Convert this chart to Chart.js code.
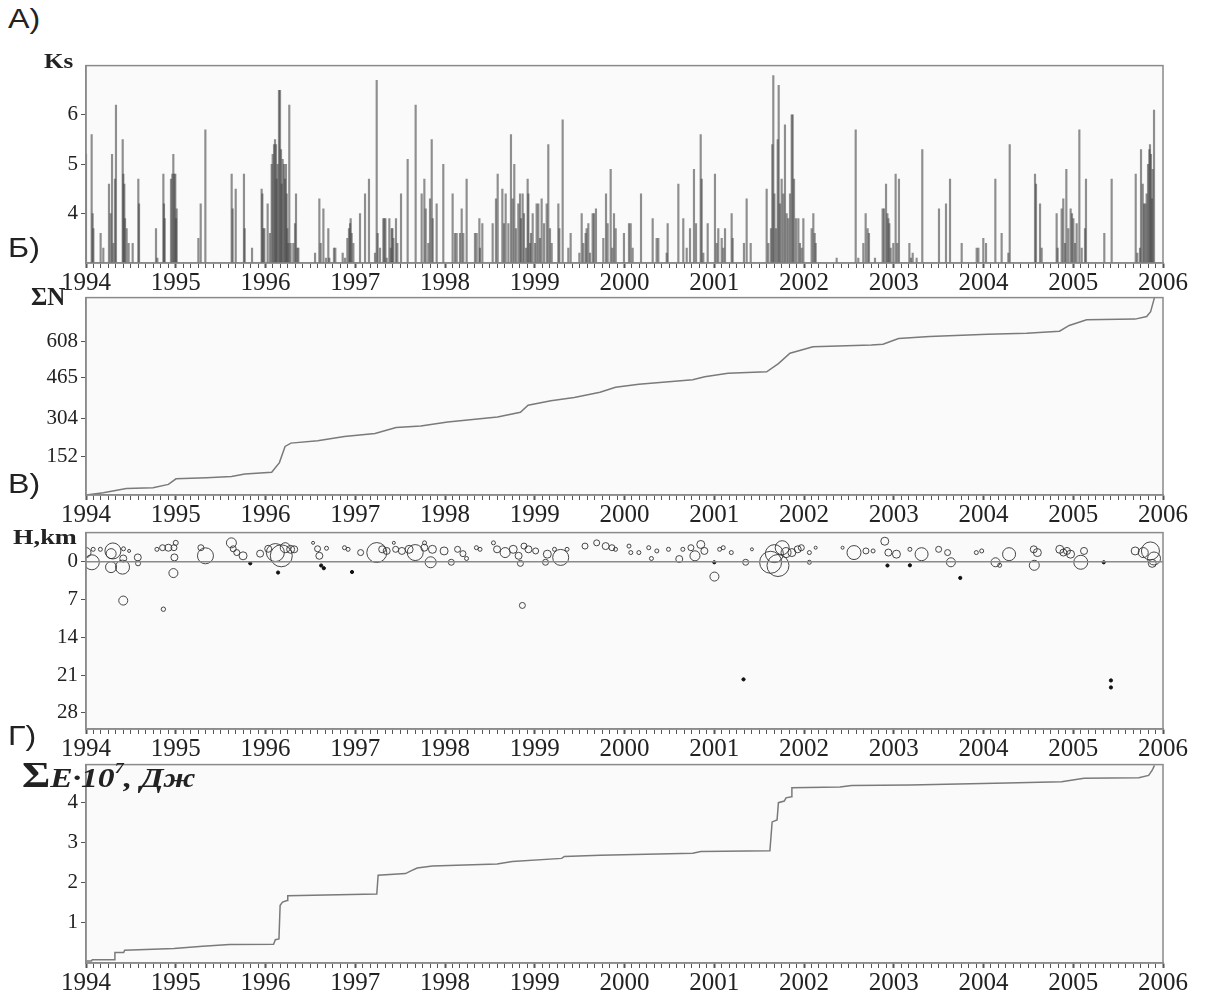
<!DOCTYPE html>
<html>
<head>
<meta charset="utf-8">
<script src="https://cdn.jsdelivr.net/npm/chart.js@4.4.1/dist/chart.umd.min.js"></script>
<style>
  body { margin: 0; background: #fff; width: 1208px; height: 998px; position: relative; overflow: hidden; color: #222; font-family: 'Liberation Serif', 'Times New Roman', serif; }
  canvas { position: absolute; left: 0; z-index: 1; }
  .lbl { position: absolute; z-index: 2; font-family: 'Liberation Sans', Arial, sans-serif; font-size: 28px; line-height: 1; transform: scaleX(1.15); transform-origin: left top; }
  .ttl { position: absolute; z-index: 2; font-weight: bold; line-height: 1; white-space: nowrap; transform-origin: left top; }
</style>
</head>
<body>
<div class="lbl" style="left:8px;top:5px">А)</div>
<div class="lbl" style="left:8px;top:234px">Б)</div>
<div class="lbl" style="left:8px;top:470px">В)</div>
<div class="lbl" style="left:8px;top:722px">Г)</div>

<div class="ttl" style="left:44px;top:51px;font-size:20px;transform:scaleX(1.25)">Ks</div>
<div class="ttl" style="left:31px;top:284px;font-size:25px">ΣN</div>
<div class="ttl" style="left:13px;top:526px;font-size:22px;transform:scaleX(1.2)">H,km</div>
<div class="ttl" style="left:22px;top:757px;font-size:28px;font-style:italic;transform:scaleX(1.2)"><span style="font-size:36px;font-style:normal">Σ</span>E·10<span style="font-size:15px;vertical-align:14px">7</span>, Дж</div>

<canvas id="chart-1" width="1208" height="243" style="top:50px"></canvas>
<canvas id="chart-2" width="1208" height="243" style="top:282px"></canvas>
<canvas id="chart-3" width="1208" height="242" style="top:517px"></canvas>
<canvas id="chart-4" width="1208" height="249" style="top:749px"></canvas>

<script>
const yearLabels = [1994, 1995, 1996, 1997, 1998, 1999, 2000, 2001, 2002, 2003, 2004, 2005, 2006];

// А) energy class Ks of each event
const ksYear = [
  1994.000, 1994.063, 1994.074, 1994.082, 1994.163, 1994.193, 1994.256, 1994.275, 1994.290, 1994.305,
  1994.323, 1994.334, 1994.409, 1994.416, 1994.427, 1994.435, 1994.453, 1994.475, 1994.520, 1994.583,
  1994.591, 1994.780, 1994.795, 1994.862, 1994.869, 1994.877, 1994.947, 1994.962, 1994.973, 1994.984,
  1994.995, 1995.003, 1995.010, 1995.252, 1995.278, 1995.330, 1995.623, 1995.634, 1995.668, 1995.760,
  1995.768, 1995.850, 1995.957, 1995.965, 1995.976, 1995.987, 1996.024, 1996.050, 1996.069, 1996.080,
  1996.095, 1996.106, 1996.117, 1996.124, 1996.135, 1996.150, 1996.162, 1996.173, 1996.180, 1996.191,
  1996.206, 1996.217, 1996.228, 1996.236, 1996.243, 1996.254, 1996.265, 1996.280, 1996.310, 1996.329,
  1996.340, 1996.355, 1996.366, 1996.552, 1996.600, 1996.615, 1996.645, 1996.674, 1996.700, 1996.711,
  1996.763, 1996.778, 1996.860, 1996.886, 1996.912, 1996.930, 1996.942, 1996.949, 1996.960, 1996.979,
  1997.053, 1997.109, 1997.153, 1997.220, 1997.239, 1997.250, 1997.276, 1997.313, 1997.324, 1997.336,
  1997.350, 1997.380, 1997.395, 1997.406, 1997.414, 1997.425, 1997.454, 1997.469, 1997.510, 1997.584,
  1997.673, 1997.740, 1997.770, 1997.785, 1997.814, 1997.833, 1997.852, 1997.863, 1997.907, 1997.981,
  1998.085, 1998.111, 1998.130, 1998.167, 1998.186, 1998.204, 1998.241, 1998.334, 1998.353, 1998.383,
  1998.390, 1998.416, 1998.531, 1998.568, 1998.587, 1998.639, 1998.657, 1998.676, 1998.706, 1998.735,
  1998.754, 1998.772, 1998.791, 1998.817, 1998.836, 1998.847, 1998.865, 1998.880, 1998.903, 1998.921,
  1998.929, 1998.947, 1998.958, 1998.977, 1999.003, 1999.021, 1999.040, 1999.058, 1999.077, 1999.103,
  1999.133, 1999.151, 1999.170, 1999.189, 1999.263, 1999.274, 1999.311, 1999.374, 1999.400, 1999.497,
  1999.523, 1999.541, 1999.567, 1999.578, 1999.597, 1999.616, 1999.645, 1999.660, 1999.682, 1999.764,
  1999.794, 1999.812, 1999.846, 1999.864, 1999.883, 1999.902, 1999.994, 2000.050, 2000.069, 2000.091,
  2000.184, 2000.314, 2000.358, 2000.377, 2000.470, 2000.481, 2000.600, 2000.655, 2000.693, 2000.730,
  2000.774, 2000.797, 2000.849, 2000.860, 2000.878, 2000.927, 2001.008, 2001.027, 2001.045, 2001.083,
  2001.101, 2001.120, 2001.194, 2001.205, 2001.331, 2001.361, 2001.406, 2001.584, 2001.603, 2001.632,
  2001.647, 2001.658, 2001.670, 2001.688, 2001.707, 2001.718, 2001.733, 2001.751, 2001.770, 2001.788,
  2001.807, 2001.825, 2001.844, 2001.863, 2001.874, 2001.889, 2001.911, 2001.937, 2001.955, 2001.974,
  2001.993,
  2002.085, 2002.104, 2002.119, 2002.130, 2002.364, 2002.576, 2002.605, 2002.661, 2002.687, 2002.709,
  2002.724, 2002.791, 2002.876, 2002.891, 2002.914, 2002.929, 2002.940, 2002.951, 2002.966, 2002.995,
  2003.021, 2003.040, 2003.058, 2003.174, 2003.192, 2003.211, 2003.255, 2003.318, 2003.504, 2003.582,
  2003.627, 2003.757, 2003.924, 2003.943, 2003.998, 2004.028, 2004.132, 2004.202, 2004.277, 2004.292,
  2004.574, 2004.585, 2004.630, 2004.648, 2004.815, 2004.826, 2004.871, 2004.889, 2004.908, 2004.923,
  2004.945, 2004.971, 2004.986, 2005.001, 2005.019, 2005.038, 2005.068, 2005.094, 2005.131, 2005.142,
  2005.346, 2005.428, 2005.696, 2005.714, 2005.744, 2005.755, 2005.774, 2005.789, 2005.804, 2005.818,
  2005.833, 2005.848, 2005.855, 2005.866, 2005.877, 2005.885, 2005.900
];
const ksValue = [
  5.2, 5.6, 4.0, 3.7, 3.6, 3.3, 4.6, 4.0, 5.2, 3.4,
  4.7, 6.2, 5.5, 4.8, 4.6, 3.9, 3.7, 3.4, 3.4, 4.7,
  4.2, 3.7, 3.1, 4.8, 4.2, 3.9, 4.7, 4.8, 5.2, 4.8,
  4.8, 3.9, 4.1, 3.5, 4.2, 5.7, 4.8, 4.1, 4.5, 4.8,
  3.7, 3.3, 4.5, 4.4, 3.7, 3.7, 4.2, 3.6, 5.0, 5.2,
  5.4, 5.5, 5.4, 4.7, 5.0, 6.5, 6.5, 5.3, 4.6, 5.1,
  5.0, 4.7, 5.0, 4.4, 3.7, 3.4, 6.2, 3.4, 3.4, 3.8,
  4.4, 3.3, 3.3, 3.2, 4.3, 3.4, 4.1, 3.1, 3.7, 3.1,
  3.3, 3.3, 3.2, 3.1, 3.5, 3.7, 3.8, 3.9, 3.6, 3.4,
  4.0, 4.4, 4.7, 3.2, 6.7, 3.6, 3.3, 3.9, 3.9, 3.9,
  3.1, 3.9, 3.3, 3.7, 3.7, 3.5, 3.9, 3.4, 4.4, 5.1,
  6.2, 4.4, 4.7, 4.1, 3.4, 4.3, 5.5, 3.9, 4.2, 5.0,
  4.4, 3.6, 3.6, 3.6, 4.1, 3.6, 4.7, 3.6, 3.6, 3.9,
  3.3, 3.8, 3.8, 4.3, 4.8, 4.5, 3.8, 4.4, 3.8, 5.6,
  4.3, 5.0, 3.7, 4.2, 4.4, 3.9, 4.4, 4.0, 3.3, 4.7,
  4.4, 3.4, 3.6, 4.0, 3.4, 4.2, 4.2, 3.5, 4.3, 3.8,
  4.2, 5.4, 3.7, 3.4, 4.2, 3.7, 5.9, 3.3, 3.6, 3.2,
  4.0, 3.4, 3.6, 3.7, 3.8, 3.2, 4.0, 4.0, 4.1, 3.5,
  4.4, 3.8, 4.9, 3.3, 4.0, 3.7, 3.6, 3.8, 3.8, 3.3,
  4.4, 3.9, 3.5, 3.5, 3.2, 3.8, 4.6, 3.9, 3.3, 3.7,
  4.9, 3.8, 5.6, 4.7, 3.2, 3.8, 4.8, 3.4, 3.7, 3.5,
  3.3, 3.7, 4.0, 3.5, 3.4, 4.3, 3.4, 4.5, 3.4, 3.7,
  5.4, 6.8, 4.4, 3.7, 5.5, 6.6, 4.2, 4.7, 4.4, 5.8,
  4.0, 3.9, 4.4, 6.0, 6.0, 4.7, 3.9, 3.9, 3.4, 3.3,
  3.9,
  3.7, 4.0, 3.6, 3.4, 3.1, 5.7, 3.1, 3.4, 4.0, 3.7,
  3.6, 3.1, 4.1, 4.1, 4.6, 4.0, 3.9, 3.8, 3.3, 3.4,
  4.8, 3.4, 4.7, 3.4, 3.1, 3.2, 3.1, 5.3, 4.1, 4.2,
  4.7, 3.4, 3.3, 3.3, 3.5, 3.4, 4.7, 3.6, 3.2, 5.4,
  4.8, 4.6, 4.2, 3.3, 4.0, 3.3, 4.1, 4.3, 3.4, 4.9,
  3.7, 4.1, 4.0, 3.9, 3.4, 3.8, 5.7, 3.3, 3.7, 4.7,
  3.6, 4.7, 4.8, 3.2, 3.3, 5.3, 4.6, 4.2, 4.2, 4.4,
  5.0, 5.3, 5.4, 5.2, 4.3, 4.9, 6.1
];
const ksTicks = [4, 5, 6];

// Б) cumulative number of events
const nYear = [1994.000, 1994.193, 1994.449, 1994.747, 1994.918, 1995.003, 1995.345, 1995.621, 1995.770, 1996.069,
  1996.155, 1996.218, 1996.283, 1996.581, 1996.879, 1997.220, 1997.455, 1997.730, 1998.030, 1998.585,
  1998.840, 1998.926, 1999.180, 1999.440, 1999.727, 1999.900, 2000.160, 2000.760, 2000.894, 2001.153,
  2001.584, 2001.715, 2001.844, 2002.100, 2002.751, 2002.880, 2003.054, 2003.400, 2004.047, 2004.480,
  2004.847, 2004.955, 2005.149, 2005.689, 2005.818, 2005.862, 2005.905];
const nCount = [0, 9, 26, 29, 42, 64, 68, 73, 83, 90,
  128, 192, 205, 214, 231, 243, 267, 273, 288, 308,
  327, 355, 372, 385, 406, 426, 438, 455, 467, 481,
  487, 519, 560, 586, 593, 596, 618, 626, 635, 639,
  647, 670, 692, 695, 705, 724, 780];
const nTicks = [152, 304, 465, 608];

// В) hypocentre depth, open circles (radius grows with event size)
const hYear = [
  1994.000, 1994.065, 1994.080, 1994.160, 1994.279, 1994.280, 1994.300, 1994.407, 1994.415, 1994.418,
  1994.480, 1994.577, 1994.580, 1994.415, 1994.862, 1994.790, 1994.853, 1994.918, 1994.980, 1995.000,
  1994.985, 1994.974, 1995.331, 1995.280, 1995.620, 1995.640, 1995.680, 1995.750, 1995.940, 1996.030,
  1996.110, 1996.176, 1996.220, 1996.280, 1996.320, 1996.580, 1996.600, 1996.530, 1996.680, 1996.880,
  1996.920, 1997.060, 1997.240, 1997.300, 1997.350, 1997.430, 1997.450, 1997.520, 1997.600, 1997.668,
  1997.770, 1997.772, 1997.840, 1997.860, 1997.990, 1998.070, 1998.140, 1998.200, 1998.240, 1998.350,
  1998.390, 1998.540, 1998.580, 1998.670, 1998.760, 1998.820, 1998.840, 1998.862, 1998.880, 1998.930,
  1999.010, 1999.120, 1999.140, 1999.289, 1999.220, 1999.360, 1999.560, 1999.690, 1999.790, 1999.860,
  1999.900, 2000.050, 2000.070, 2000.160, 2000.270, 2000.300, 2000.360, 2000.490, 2000.610, 2000.650,
  2000.740, 2000.785, 2000.850, 2000.890, 2001.002, 2001.060, 2001.100, 2001.190, 2001.350, 2001.420,
  2001.628, 2001.670, 2001.710, 2001.757, 2001.800, 2001.865, 2001.930, 2001.970, 2002.060, 2002.060,
  2002.130, 2002.430, 2002.557, 2002.690, 2002.770, 2002.900, 2002.940, 2003.030, 2003.180, 2003.310,
  2003.500, 2003.600, 2003.637, 2003.920, 2003.980, 2004.134, 2004.180, 2004.285, 2004.560, 2004.600,
  2004.566, 2004.850, 2004.890, 2004.930, 2004.970, 2005.084, 2005.120, 2005.690, 2005.780, 2005.860,
  2005.900, 2005.880
];
const hDepth = [
  -1.7, 0.1, -2.3, -2.3, 1.0, -1.5, -2.0, 1.0, -0.6, -2.4,
  -2.0, -0.8, 0.3, 7.2, 8.8, -2.3, -2.6, -2.6, -2.6, -3.5,
  -0.8, 2.1, -1.1, -2.6, -3.5, -2.4, -1.7, -1.1, -1.5, -2.4,
  -1.7, -1.1, -2.6, -2.3, -2.3, -2.4, -1.1, -3.5, -2.5, -2.6,
  -2.3, -1.7, -1.7, -2.3, -2.0, -3.5, -2.3, -2.0, -2.3, -1.7,
  -2.6, -3.5, 0.1, -2.3, -2.0, 0.1, -2.3, -1.5, -0.6, -2.6,
  -2.3, -3.5, -2.3, -1.7, -2.3, -1.1, 0.3, 8.1, -2.9, -2.3,
  -2.0, 0.1, -1.4, -0.8, -2.3, -2.3, -2.9, -3.5, -2.9, -2.6,
  -2.3, -2.9, -1.7, -1.7, -2.6, -0.6, -2.0, -2.3, -0.5, -2.3,
  -2.6, -1.1, -3.2, -2.0, 2.75, -2.3, -2.6, -1.7, 0.1, -2.3,
  0.1, -1.5, 0.7, -2.6, -1.7, -1.7, -2.3, -2.6, -1.7, 0.1,
  -2.6, -2.6, -1.7, -2.0, -2.0, -3.8, -1.7, -1.4, -2.3, -1.4,
  -2.3, -1.7, 0.1, -1.7, -2.0, 0.1, 0.66, -1.4, -2.3, -1.7,
  0.66, -2.3, -1.7, -2.0, -1.4, 0.1, -2.0, -2.0, -1.7, -2.0,
  -0.6, 0.3
];
const hSize = [
  5, 7.5, 2, 2, 5.5, 5, 8, 7, 3.5, 2,
  1.5, 3.5, 2.5, 4.5, 2.2, 2, 3, 3.5, 3, 2.5,
  3.5, 4.5, 8, 3, 5, 3, 3, 4, 3.5, 3.5,
  9, 11, 5, 4, 3.5, 3, 3.5, 1.5, 2, 2,
  2, 3, 10, 3.5, 3.5, 1.5, 3, 3.5, 4, 8,
  3.5, 2, 5.5, 4, 4, 3, 3, 3, 2, 2,
  2, 2, 3.5, 5, 4, 3.5, 3, 3, 3, 3.5,
  3, 3, 4, 8, 2, 2, 3, 3, 3.5, 3,
  2, 2, 2, 2, 2, 2, 2, 2, 3.5, 2,
  3, 5, 4, 3.5, 4.5, 2, 2, 2, 3, 1.5,
  11, 9, 11, 7, 5, 4, 3.5, 3, 2, 2,
  1.5, 1.5, 7, 3, 2, 4, 3.5, 4, 2, 6.5,
  3, 3, 4.5, 2, 2, 4.5, 2, 6.5, 3.5, 4,
  5, 4, 3.5, 3.5, 4, 7, 3.5, 4, 5, 9,
  6.5, 4
];
// В) small filled events
const dotYear = [1995.830, 1996.140, 1996.620, 1996.650, 1996.964, 2001.000, 2001.326, 2002.930, 2003.180, 2003.741, 2005.340, 2005.420, 2005.420];
const dotDepth = [0.3, 2.0, 0.7, 1.2, 1.9, 0.1, 21.8, 0.7, 0.66, 3.0, 0.1, 22.0, 23.3];
const hTicks = [0, 7, 14, 21, 28];

// Г) cumulative energy, 10^7 J
const eYear = [1994.000, 1994.060, 1994.070, 1994.320, 1994.322, 1994.420, 1994.430, 1994.980, 1995.300, 1995.600,
  1996.090, 1996.110, 1996.150, 1996.163, 1996.190, 1996.240, 1996.248, 1997.240, 1997.255, 1997.560,
  1997.620, 1997.690, 1997.860, 1998.580, 1998.750, 1999.300, 1999.330, 1999.730, 2000.760, 2000.850,
  2001.620, 2001.645, 2001.700, 2001.715, 2001.780, 2001.800, 2001.860, 2001.865, 2002.400, 2002.530,
  2003.180, 2004.260, 2004.870, 2005.120, 2005.730, 2005.840, 2005.880, 2005.905];
const eValue = [0.05, 0.05, 0.08, 0.08, 0.26, 0.26, 0.32, 0.36, 0.42, 0.46,
  0.47, 0.58, 0.60, 1.44, 1.52, 1.56, 1.68, 1.72, 2.19, 2.23,
  2.30, 2.37, 2.42, 2.47, 2.53, 2.61, 2.66, 2.69, 2.74, 2.78,
  2.80, 3.52, 3.57, 4.00, 4.04, 4.12, 4.15, 4.37, 4.39, 4.43,
  4.44, 4.49, 4.52, 4.61, 4.62, 4.68, 4.81, 4.93];
const eTicks = [1, 2, 3, 4];

const SERIF = "'Liberation Serif', 'Times New Roman', serif";
const isYear = (v) => Math.abs(v - Math.round(v)) < 1e-6;

// panel background and full frame round the plot area
const frame = {
  id: "frame",
  beforeDraw(chart) {
    const a = chart.chartArea, ctx = chart.ctx;
    ctx.save();
    ctx.fillStyle = "#fafafa";
    ctx.fillRect(a.left, a.top, a.width, a.height);
    ctx.restore();
  },
  afterDatasetsDraw(chart) {
    const a = chart.chartArea, ctx = chart.ctx;
    ctx.save();
    ctx.strokeStyle = "#8a8a8a";
    ctx.lineWidth = 1.5;
    ctx.strokeRect(a.left, a.top, a.width, a.height);
    ctx.restore();
  },
};

function xScale(h) {
  return {
    type: "linear",
    min: 1994,
    max: 2006,
    offset: false,
    afterBuildTicks(s) {
      const t = [];
      for (let i = 0; i <= 144; i++) t.push({ value: 1994 + i / 12 });
      s.ticks = t;
    },
    afterFit(s) { s.height = h; },
    ticks: {
      autoSkip: false, maxRotation: 0, minRotation: 0, padding: 0,
      color: "#222", font: { family: SERIF, size: 25 },
      callback: (v) => (isYear(v) && yearLabels.includes(Math.round(v)) ? String(Math.round(v)) : ""),
    },
    grid: {
      offset: false, drawOnChartArea: false, tickLength: 5, tickColor: "#555",
      tickWidth: (c) => (c.tick && isYear(c.tick.value) ? 2 : 1),
    },
    border: { color: "#8a8a8a", width: 1.5 },
  };
}

function yScale(min, max, ticks, reverse) {
  return {
    type: "linear",
    min: min,
    max: max,
    reverse: !!reverse,
    afterBuildTicks(s) { s.ticks = ticks.map((v) => ({ value: v })); },
    afterFit(s) { s.width = 86; },
    ticks: { color: "#222", padding: 3, font: { family: SERIF, size: 21 } },
    grid: { drawOnChartArea: false, tickLength: 5, tickColor: "#555" },
    border: { color: "#8a8a8a", width: 1.5 },
  };
}

function makeChart(id, type, datasets, y, axisH) {
  return new Chart(document.getElementById(id), {
    type: type,
    data: { datasets: datasets },
    options: {
      responsive: false,
      animation: false,
      events: [],
      layout: { padding: { top: 10, right: 45, left: 0, bottom: 0 } },
      plugins: { legend: { display: false }, tooltip: { enabled: false } },
      scales: { x: xScale(axisH), y: y },
    },
    plugins: [frame],
  });
}

makeChart("chart-1", "bar", [{
  data: ksYear.map((x, i) => ({ x: x, y: ksValue[i] })),
  base: 3,
  barThickness: 1.5,
  backgroundColor: "rgba(70,70,70,0.6)",
  borderWidth: 0,
}], yScale(3, 7, ksTicks), 30);

makeChart("chart-2", "line", [{
  data: nYear.map((x, i) => ({ x: x, y: nCount[i] })),
  borderColor: "#7a7a7a",
  borderWidth: 1.5,
  pointRadius: 0,
  tension: 0,
  fill: false,
}], yScale(0, 780, nTicks), 30);

makeChart("chart-3", "bubble", [
  {
    type: "line",
    data: [{ x: 1994, y: 0 }, { x: 2006, y: 0 }],
    borderColor: "#8a8a8a",
    borderWidth: 1.5,
    pointRadius: 0,
  },
  {
    data: hYear.map((x, i) => ({ x: x, y: hDepth[i], r: hSize[i] })),
    backgroundColor: "rgba(255,255,255,0)",
    borderColor: "#333",
    borderWidth: 0.9,
  },
  {
    data: dotYear.map((x, i) => ({ x: x, y: dotDepth[i], r: 1.6 })),
    backgroundColor: "#111",
    borderColor: "#111",
    borderWidth: 1,
  },
], yScale(-5.4, 31, hTicks, true), 30);

makeChart("chart-4", "line", [{
  data: eYear.map((x, i) => ({ x: x, y: eValue[i] })),
  borderColor: "#7a7a7a",
  borderWidth: 1.5,
  pointRadius: 0,
  tension: 0,
  fill: false,
}], yScale(0, 4.95, eTicks), 35);
</script>
</body>
</html>
